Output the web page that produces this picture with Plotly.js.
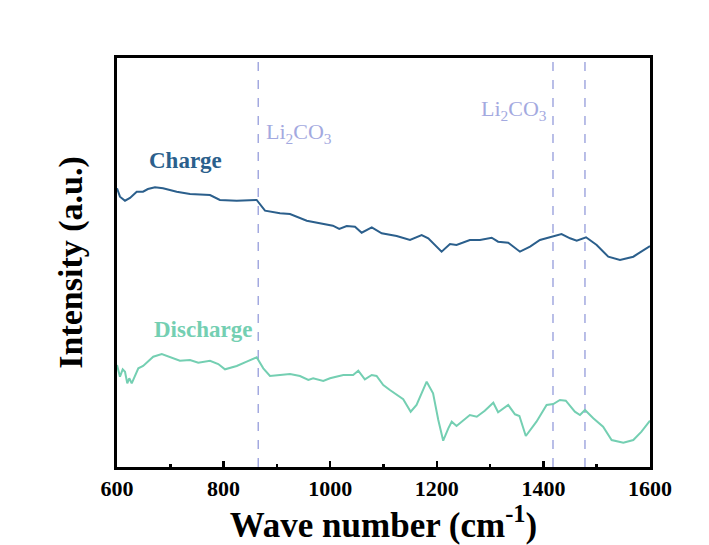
<!DOCTYPE html>
<html>
<head>
<meta charset="utf-8">
<script src="https://cdn.plot.ly/plotly-3.0.1.min.js"></script>
<style>html,body{margin:0;padding:0;background:#fff;}#chart{width:709px;height:545px;}</style>
</head>
<body>
<div id="chart"></div>
<script>
// Wave number (cm^-1) and intensity (a.u.)
const chargeX = [600, 605.6, 615, 624.4, 637, 648.8, 658, 671.3, 686.3, 712, 737, 774.5, 793, 824.6, 862, 877.7, 905.8, 924.6, 956, 1005, 1017, 1031, 1046.5, 1059, 1078, 1096.6, 1124.7, 1149.7, 1171.6, 1184, 1209, 1224.7, 1237, 1262, 1281, 1303, 1315, 1334, 1356, 1375, 1393.5, 1418.5, 1434, 1450, 1462.5, 1480, 1500, 1521.7, 1543.7, 1568.7, 1600];
const chargeY = [278.7, 270.3, 266.3, 269, 275.3, 275.3, 278, 279.7, 278.7, 275.3, 273, 272, 267, 266.3, 267, 256.3, 253.7, 253, 246.3, 241.3, 238, 241, 240.3, 234.3, 239.7, 233.7, 231, 227, 232, 228.7, 215.3, 223, 222, 227, 227, 229.3, 225.3, 224.3, 215.3, 220.3, 227, 230.3, 233, 228.7, 226.3, 229.7, 222, 210.3, 207, 210.3, 221];

const dischargeX = [600, 605.6, 610.7, 615, 619.3, 623, 627.6, 632, 640, 649, 668, 684, 699.4, 718, 737, 752.5, 774.5, 790, 802.6, 824.6, 843.3, 862, 874.5, 887, 905.8, 924.6, 943.3, 959, 968, 987, 999.6, 1024.6, 1043, 1052.7, 1065, 1078, 1087, 1099.6, 1112, 1137, 1151, 1162, 1181, 1193, 1202.8, 1212, 1221.6, 1228, 1237, 1249.7, 1262, 1275, 1290, 1306, 1315, 1334, 1346.7, 1355, 1367, 1387, 1406, 1418.5, 1431, 1442, 1459, 1468.6, 1478, 1493.6, 1512, 1528, 1550, 1568.7, 1584, 1600];
const dischargeY = [102, 90.3, 97.7, 95.3, 83.7, 88.7, 83.7, 88.7, 98.7, 101, 110.3, 113, 110.3, 106.3, 107, 104.3, 106.3, 103, 97.7, 101, 105.3, 109.7, 98.7, 91, 92, 93, 91, 87, 88.7, 86, 88.7, 92, 92, 96.3, 87.7, 92, 91, 82, 77, 67.7, 55.3, 62, 85.3, 73.7, 47, 26.3, 38.7, 45.3, 41, 46.3, 52, 50.3, 56.3, 64.3, 54.7, 62, 52.7, 51, 31, 45.3, 62, 63, 67, 66.3, 55.3, 52, 57, 48.7, 40.3, 27, 24.3, 27, 35.3, 46.3];

const peakLines = [865, 1418, 1478];
const xTicks = [600, 800, 1000, 1200, 1400, 1600];

const serif = "Liberation Serif, Times New Roman, serif";
const chargeColor = "#2b5f8c";
const dischargeColor = "#74cfb2";
const peakColor = "#a3a9e0";

const traces = [
  {x: chargeX, y: chargeY, mode: "lines", line: {color: chargeColor, width: 2}, hoverinfo: "skip"},
  {x: dischargeX, y: dischargeY, mode: "lines", line: {color: dischargeColor, width: 2}, hoverinfo: "skip"}
];

const shapes = peakLines.map(v => ({
  type: "line", xref: "x", yref: "paper", x0: v, x1: v, y0: 0, y1: 1,
  line: {color: peakColor, width: 1.5, dash: "dash"}, layer: "below"
}));

const layout = {
  width: 709, height: 545,
  margin: {l: 117, r: 59, t: 58, b: 78},
  paper_bgcolor: "#ffffff", plot_bgcolor: "#ffffff",
  showlegend: false,
  font: {family: serif, color: "#000"},
  xaxis: {
    range: [600, 1600], tickvals: xTicks, ticktext: xTicks.map(String),
    ticks: "inside", ticklen: 6, tickwidth: 2.5, tickcolor: "#000",
    minor: {dtick: 100, tick0: 600, ticks: "inside", ticklen: 3, tickwidth: 2.5, tickcolor: "#000"},
    showline: true, linewidth: 3, linecolor: "#000", mirror: true,
    showgrid: false, zeroline: false,
    tickfont: {family: serif, size: 22, color: "#000", weight: "bold"},
    title: {text: "<b>Wave number (cm<sup>-1</sup>)</b>", font: {family: serif, size: 35, color: "#000"}, standoff: 4}
  },
  yaxis: {
    range: [0, 409], showticklabels: false, ticks: "",
    showline: true, linewidth: 3, linecolor: "#000", mirror: true,
    showgrid: false, zeroline: false,
    title: {text: "<b>Intensity (a.u.)</b>", font: {family: serif, size: 34, color: "#000"}, standoff: 22}
  },
  shapes: shapes,
  annotations: [
    {x: 729, y: 307, xref: "x", yref: "y", text: "<b>Charge</b>", showarrow: false,
     font: {family: serif, size: 23, color: chargeColor}},
    {x: 761, y: 138, xref: "x", yref: "y", text: "<b>Discharge</b>", showarrow: false,
     font: {family: serif, size: 23, color: dischargeColor}},
    {x: 876, y: 334, xref: "x", yref: "y", text: "Li<sub>2</sub>CO<sub>3</sub>", showarrow: false, xanchor: "left",
     font: {family: serif, size: 22, color: peakColor}},
    {x: 1410, y: 357, xref: "x", yref: "y", text: "Li<sub>2</sub>CO<sub>3</sub>", showarrow: false, xanchor: "right",
     font: {family: serif, size: 22, color: peakColor}}
  ]
};

Plotly.newPlot("chart", traces, layout, {displayModeBar: false, staticPlot: true});
</script>
</body>
</html>
